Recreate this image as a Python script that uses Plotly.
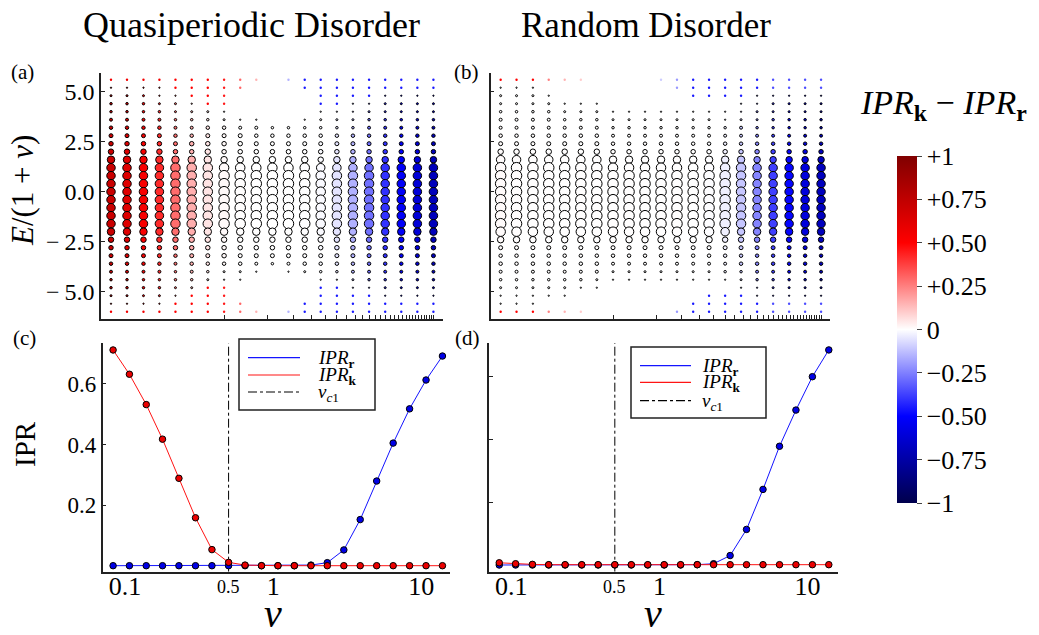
import plotly.graph_objects as go

SERIF = "Liberation Serif"

# ---------------- data ----------------
v = [0.083, 0.107, 0.139, 0.179, 0.231, 0.299, 0.386, 0.5, 0.646, 0.834, 1.077,
     1.39, 1.80, 2.32, 3.0, 3.87, 5.0, 6.46, 8.34, 10.77, 13.9]

E_rows = [5.6, 5.2, 4.8, 4.4, 4.0, 3.6, 3.2, 2.8, 2.4, 2.0, 1.6, 1.2, 0.8, 0.4, 0.0,
          -0.4, -0.8, -1.2, -1.6, -2.0, -2.4, -2.8, -3.2, -3.6, -4.0, -4.4, -4.8,
          -5.2, -5.6, -6.0]

# IPR curves, quasiperiodic disorder (c)
ipr_r_qp = [0.001, 0.001, 0.001, 0.001, 0.001, 0.001, 0.001, 0.001, 0.001, 0.001,
            0.001, 0.001, 0.003, 0.011, 0.053, 0.153, 0.280, 0.405, 0.518, 0.613, 0.692]
ipr_k_qp = [0.712, 0.632, 0.532, 0.418, 0.289, 0.159, 0.054, 0.012, 0.003, 0.001,
            0.001, 0.001, 0.001, 0.001, 0.001, 0.001, 0.001, 0.001, 0.001, 0.001, 0.001]

# IPR curves, random disorder (d)
ipr_r_rd = [0.0, 0.0, 0.0, 0.0, 0.0, 0.0, 0.0, 0.0, 0.0, 0.0, 0.0, 0.0, 0.001,
            0.004, 0.030, 0.113, 0.240, 0.377, 0.492, 0.598, 0.683]
ipr_k_rd = [0.007, 0.004, 0.002, 0.001, 0.001, 0.001, 0.001, 0.001, 0.001, 0.001,
            0.001, 0.001, 0.001, 0.001, 0.001, 0.001, 0.001, 0.001, 0.001, 0.001, 0.001]

# density-of-states level per energy row (top E=5.6 -> bottom E=-6.0), one string per v column
# '0' = empty, '1' = vanishing weight, '2'..'e' = increasing weight
dos_qp = [
    "1234456789" + "b" + "cccccccc" + "b9876544321",
    "1234456789" + "b" + "cccccccc" + "b9876544321",
    "1234456789" + "b" + "cccccccc" + "b9876544321",
    "1223456789" + "b" + "cccccccc" + "b9876544321",
    "1123345678" + "b" + "dddddddd" + "b9865443211",
    "1112345688" + "b" + "dddddddd" + "b9876543111",
    "1111346789" + "b" + "dddddddd" + "b9876431111",
    "1111236788" + "a" + "d" + "eeeeeee" + "b9886321111",
    "1100025788" + "a" + "d" + "eeeeeee" + "b9876320011",
    "1000025678" + "a" + "d" + "eeeeeee" + "b9875200001",
    "0000004678" + "a" + "d" + "eeeeeee" + "b9874000000",
    "1000004678" + "a" + "d" + "eeeeeee" + "b9875200001",
    "1100024678" + "a" + "d" + "eeeeeee" + "b9876300011",
    "1111234678" + "9" + "c" + "ddddddd" + "b9876421111",
    "1111234678" + "a" + "c" + "ddddddd" + "b9876421111",
    "1112234678" + "a" + "c" + "ddddddd" + "b9876532111",
    "1112345678" + "a" + "c" + "ddddddd" + "b9876542111",
    "1123345678" + "a" + "c" + "ccccccc" + "b9876543211",
    "1123345678" + "a" + "c" + "ccccccc" + "b9876543211",
    "1123345678" + "a" + "c" + "ccccccc" + "b9876543211",
    "1123345678" + "a" + "c" + "ccccccc" + "b9876543211",
]
dos_rd = [
    "1233455679" + "c" + "eeeeeeee" + "da766543221",
    "1233455679" + "c" + "eeeeeeee" + "da766543221",
    "1233455679" + "c" + "eeeeeeee" + "da766543221",
    "1023455679" + "c" + "eeeeeeee" + "da766543201",
    "1002345679" + "c" + "eeeeeeee" + "da766543201",
    "1002345679" + "c" + "eeeeeeee" + "da766542001",
    "0002345679" + "c" + "eeeeeeee" + "da766532000",
    "0000234568" + "b" + "d" + "eeeeeee" + "da765320000",
    "0000234568" + "b" + "d" + "eeeeeee" + "da765320000",
    "0000234568" + "b" + "d" + "eeeeeee" + "da765320000",
    "1000234568" + "b" + "d" + "eeeeeee" + "da765320000",
    "1100234568" + "b" + "d" + "eeeeeee" + "da765320001",
    "1110234568" + "b" + "d" + "eeeeeee" + "da765320011",
    "1110234568" + "b" + "d" + "eeeeeee" + "da765320111",
    "1110224568" + "b" + "d" + "eeeeeee" + "c9765420111",
    "1112235568" + "b" + "d" + "ddddddd" + "b9766432111",
    "1122334568" + "a" + "c" + "ccccccc" + "b9766542211",
    "1123344568" + "a" + "c" + "ccccccc" + "b9766543211",
    "1123344568" + "a" + "c" + "ccccccc" + "b9766543211",
    "1123344568" + "a" + "c" + "ccccccc" + "b9766543211",
    "1123344568" + "a" + "c" + "ccccccc" + "b9766543211",
]

# IPR_k - IPR_r of the band-edge states with vanishing weight
edge_qp = [0.55, 0.55, 0.55, 0.55, 0.5, 0.5, 0.5, 0.45, 0.3, 0.15, 0.0,
           -0.15, -0.45, -0.45, -0.45, -0.45, -0.45, -0.45, -0.45, -0.45, -0.45]
edge_rd = [0.5, 0.5, 0.5, 0.25, 0.15, 0.1, 0.05, 0.0, 0.0, 0.0, -0.1,
           -0.2, -0.45, -0.45, -0.45, -0.45, -0.45, -0.35, -0.35, -0.35, -0.35]

cbar_vals = [-1, -0.75, -0.5, -0.25, 0, 0.25, 0.5, 0.75, 1]
cbar_text = ["\u22121", "\u22120.75", "\u22120.50", "\u22120.25", "0",
             "+0.25", "+0.50", "+0.75", "+1"]

# ---------------- styling helpers ----------------
LEVEL_PX = {'2': 1.8, '3': 2.5, '4': 3.0, '5': 3.5, '6': 4.0, '7': 4.5, '8': 5.0,
            '9': 6.0, 'a': 7.0, 'b': 8.0, 'c': 9.0, 'd': 10.0, 'e': 11.0}
EDGE_W = 1.0

seismic = [[0.0, "rgb(0,0,76)"], [0.25, "rgb(0,0,255)"], [0.5, "rgb(255,255,255)"],
           [0.75, "rgb(255,0,0)"], [1.0, "rgb(128,0,0)"]]

fig = go.Figure()


def add_bubbles(dos, edge, ipr_k, ipr_r, xa, ya):
    bx, by, bs, bc = [], [], [], []
    tx, ty, tc = [], [], []
    for j, col in enumerate(dos):
        diff = ipr_k[j] - ipr_r[j]
        for i, ch in enumerate(col):
            if ch == '0':
                continue
            if ch == '1':
                tx.append(v[j]); ty.append(E_rows[i]); tc.append(edge[j])
            else:
                bx.append(v[j]); by.append(E_rows[i])
                bs.append(max(LEVEL_PX[ch] - 0.5, 1.0)); bc.append(diff)
    fig.add_trace(go.Scatter(
        x=tx, y=ty, mode='markers', xaxis=xa, yaxis=ya, showlegend=False,
        hoverinfo='skip',
        marker=dict(symbol='circle', size=2.4, color=tc, coloraxis='coloraxis',
                    opacity=1, line=dict(width=0))))
    fig.add_trace(go.Scatter(
        x=bx, y=by, mode='markers', xaxis=xa, yaxis=ya, showlegend=False,
        marker=dict(symbol='circle', size=bs, color=bc, coloraxis='coloraxis',
                    opacity=1, line=dict(color='black', width=EDGE_W))))


add_bubbles(dos_qp, edge_qp, ipr_k_qp, ipr_r_qp, 'x', 'y')
add_bubbles(dos_rd, edge_rd, ipr_k_rd, ipr_r_rd, 'x2', 'y2')

name_r = "<i>IPR</i><sub><b>r</b></sub>"
name_k = "<i>IPR</i><sub><b>k</b></sub>"
name_c = "<i>v</i><sub><i>c</i>1</sub>"
BLUE = 'rgb(20,20,255)'
RED = 'rgb(255,20,20)'


def add_ipr(ipr_r, ipr_k, xa, ya, yr):
    fig.add_trace(go.Scatter(x=v, y=ipr_r, mode='lines', name=name_r, xaxis=xa, yaxis=ya,
                             showlegend=False, line=dict(color=BLUE, width=1)))
    fig.add_trace(go.Scatter(x=v, y=ipr_k, mode='lines', name=name_k, xaxis=xa, yaxis=ya,
                             showlegend=False, line=dict(color=RED, width=1)))
    fig.add_trace(go.Scatter(x=[0.5, 0.5], y=yr, mode='lines', name=name_c, xaxis=xa,
                             yaxis=ya, showlegend=False,
                             line=dict(color='black', width=1, dash='dashdot')))
    fig.add_trace(go.Scatter(x=v, y=ipr_r, mode='markers', xaxis=xa, yaxis=ya,
                             showlegend=False, name=name_r,
                             marker=dict(color='rgb(0,0,230)', size=6.5, opacity=1,
                                         line=dict(color='black', width=1))))
    fig.add_trace(go.Scatter(x=v, y=ipr_k, mode='markers', xaxis=xa, yaxis=ya,
                             showlegend=False, name=name_k,
                             marker=dict(color='rgb(235,0,0)', size=6.5, opacity=1,
                                         line=dict(color='black', width=1))))


YR_C = [-0.0188, 0.734]
YR_D = [-0.0213, 0.705]
add_ipr(ipr_r_qp, ipr_k_qp, 'x3', 'y3', YR_C)
add_ipr(ipr_r_rd, ipr_k_rd, 'x4', 'y4', YR_D)

# ---------------- layout ----------------
W, H = 1039, 635


def px_x(a, b):
    return [a / W, b / W]


def px_y(top, bottom):
    return [1 - bottom / H, 1 - top / H]


base = dict(showline=True, linecolor='#222', linewidth=1.5, showgrid=False,
            zeroline=False, ticks='inside', ticklen=4, tickcolor='#222', tickwidth=1,
            tickfont=dict(family=SERIF, size=24, color='black'))

minor_ticks = [0.5 * k for k in range(1, 29)]

fig.update_layout(
    width=W, height=H, margin=dict(l=0, r=0, t=0, b=0),
    paper_bgcolor='white', plot_bgcolor='white', showlegend=False,
    font=dict(family=SERIF, color='black'),
    coloraxis=dict(
        colorscale=seismic, cmin=-1, cmax=1,
        colorbar=dict(x=897 / W, xanchor='left', xpad=0, ypad=0,
                      y=1 - 329.5 / H, yanchor='middle', len=347 / H, lenmode='fraction',
                      thickness=20, thicknessmode='pixels', outlinewidth=0,
                      tickvals=cbar_vals, ticktext=cbar_text, ticks='outside',
                      ticklen=5, tickcolor='#444',
                      tickfont=dict(family=SERIF, size=26, color='black'))),
    xaxis=dict(base, domain=px_x(101, 443), anchor='y', type='log', range=[-1.150, 1.209],
               tickvals=minor_ticks, showticklabels=False),
    yaxis=dict(base, domain=px_y(72.7, 319), anchor='x', range=[-6.365, 5.95],
               tickvals=[-5, -2.5, 0, 2.5, 5],
               ticktext=["\u2212\u20095.0", "\u2212\u20092.5", "0.0", "2.5", "5.0"]),
    xaxis2=dict(base, domain=px_x(490.7, 830), anchor='y2', type='log',
                range=[-1.150, 1.205], tickvals=minor_ticks, showticklabels=False),
    yaxis2=dict(base, domain=px_y(72.7, 319), anchor='x2', range=[-6.365, 5.95],
                tickvals=[-5, -2.5, 0, 2.5, 5], showticklabels=False),
    xaxis3=dict(base, domain=px_x(102.7, 450), anchor='y3', type='log',
                range=[-1.151, 1.194], ticks='', tickvals=[0.1, 1, 10],
                ticktext=["0.1", "1", "10"], tickfont=dict(family=SERIF, size=26),
                ticklabelstandoff=-10),
    yaxis3=dict(base, domain=px_y(343.3, 571.7), anchor='x3', range=YR_C,
                tickvals=[0.2, 0.4, 0.6], ticktext=["0.2", "0.4", "0.6"],
                tickfont=dict(family=SERIF, size=23)),
    xaxis4=dict(base, domain=px_x(489.3, 838), anchor='y4', type='log',
                range=[-1.148, 1.205], ticks='', tickvals=[0.1, 1, 10],
                ticktext=["0.1", "1", "10"], tickfont=dict(family=SERIF, size=26),
                ticklabelstandoff=-10),
    yaxis4=dict(base, domain=px_y(343, 571.7), anchor='x4', range=YR_D,
                tickvals=[0.2, 0.4, 0.6], showticklabels=False),
)


def ann(text, x, y, size, **kw):
    fig.add_annotation(text=text, x=x / W, y=1 - y / H, xref='paper', yref='paper',
                       showarrow=False, font=dict(family=SERIF, size=size, color='black'),
                       xanchor=kw.pop('xanchor', 'center'), yanchor=kw.pop('yanchor', 'middle'),
                       **kw)


ann("Quasiperiodic Disorder", 251, 25, 36)
ann("Random Disorder", 646, 25, 35)
ann("(a)", 22, 72, 21)
ann("(b)", 466, 72, 21)
ann("(c)", 24, 338, 21)
ann("(d)", 467, 338, 21)
ann("<i>E</i>/(1 + <i>v</i>)", 23, 191, 31, textangle=-90)
ann("IPR", 25, 444, 29, textangle=-90)
ann("<i>v</i>", 273, 613, 40)
ann("<i>v</i>", 653, 613, 40)
ann("<i>IPR</i><sub><b>k</b></sub> \u2212 <i>IPR</i><sub><b>r</b></sub>", 943, 105, 34)
for xa_pos in (228.6, 614.3):
    ann("0.5", xa_pos, 587, 18)


# ---------------- hand-drawn legends (matching the compact reference boxes) ----------------
def legend_box(x0, y0, x1, y1, line_x0, line_x1, text_x, rows):
    fig.add_shape(type='rect', xref='paper', yref='paper',
                  x0=x0 / W, x1=x1 / W, y0=1 - y1 / H, y1=1 - y0 / H,
                  line=dict(color='#222', width=1.5), fillcolor='white', layer='above')
    for (yy, color, dash, label) in rows:
        fig.add_shape(type='line', xref='paper', yref='paper',
                      x0=line_x0 / W, x1=line_x1 / W, y0=1 - yy / H, y1=1 - yy / H,
                      line=dict(color=color, width=1.2, dash=dash), layer='above')
        ann(label, text_x, yy + 1, 19, xanchor='left')


legend_box(239, 339, 375, 410, 248, 300, 316,
           [(357.7, BLUE, 'solid', name_r), (375, RED, 'solid', name_k),
            (392, 'black', 'dashdot', name_c)])
legend_box(631, 347, 766, 418, 640, 691, 700,
           [(365.7, BLUE, 'solid', name_r), (382.3, RED, 'solid', name_k),
            (400.7, 'black', 'dashdot', name_c)])

fig.write_html("out.html", config={'displayModeBar': False},
               post_script="document.body.style.margin='0px';"
                           "document.body.style.overflow='hidden';")
